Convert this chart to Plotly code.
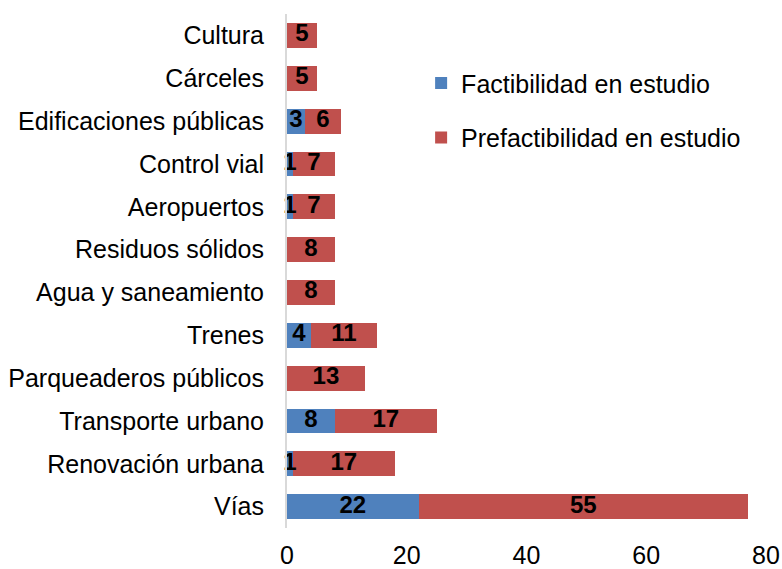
import plotly.graph_objects as go

categories = ["Cultura", "Cárceles", "Edificaciones públicas", "Control vial", "Aeropuertos",
              "Residuos sólidos", "Agua y saneamiento", "Trenes", "Parqueaderos públicos",
              "Transporte urbano", "Renovación urbana", "Vías"]
factibilidad = [0, 0, 3, 1, 1, 0, 0, 4, 0, 8, 1, 22]
prefactibilidad = [5, 5, 6, 7, 7, 8, 8, 11, 13, 17, 17, 55]
x_ticks = [0, 20, 40, 60, 80]

FONT = "Liberation Sans, Arial"

def labels(vals):
    return [str(v) if v else "" for v in vals]

fig = go.Figure()
series = [
    ("Factibilidad en estudio", factibilidad, "#4F81BD", "a"),
    ("Prefactibilidad en estudio", prefactibilidad, "#C0504D", "b"),
]
for name, vals, color, grp in series:
    fig.add_trace(go.Bar(
        y=categories, x=vals, orientation="h", name=name,
        marker=dict(color=color, line=dict(width=0)),
        legendgroup=grp, hoverinfo="x+y+name",
    ))

# value labels on top of bars, centred on each segment
base = [0] * len(categories)
for name, vals, color, grp in series:
    mids = [b + v / 2 for b, v in zip(base, vals)]
    fig.add_trace(go.Scatter(
        y=categories, x=mids, mode="text", text=labels(vals),
        textposition="middle center", cliponaxis=False,
        textfont=dict(family=FONT, size=24, color="black", weight="bold"),
        showlegend=False, hoverinfo="skip",
    ))
    base = [b + v for b, v in zip(base, vals)]

fig.update_layout(
    barmode="stack",
    bargap=0.42,
    width=782, height=569,
    margin=dict(l=287, r=16, t=14, b=41, autoexpand=False),
    paper_bgcolor="white", plot_bgcolor="white",
    font=dict(family=FONT, size=25, color="black"),
    legend=dict(x=0.28, y=0.91, xanchor="left", yanchor="top",
                traceorder="grouped", tracegroupgap=19,
                font=dict(size=25), bgcolor="rgba(0,0,0,0)", itemwidth=30),
    showlegend=True,
)
fig.update_xaxes(range=[0, 80], tickvals=x_ticks, showgrid=False, zeroline=False,
                 showline=False, ticks="", tickfont=dict(size=25), automargin=False,
                 ticklabelstandoff=10)
fig.update_yaxes(categoryorder="array", categoryarray=categories[::-1], autorange=False,
                 range=[-0.5, 11.5], showgrid=False, zeroline=False,
                 showline=True, linecolor="#D9D9D9", linewidth=2, ticks="",
                 ticklabelstandoff=16, tickfont=dict(size=25), automargin=False)

fig.write_html(
    "out.html",
    config={"displayModeBar": False},
    post_script="document.documentElement.style.overflow='hidden';"
                "document.body.style.margin='0';document.body.style.overflow='hidden';",
)
